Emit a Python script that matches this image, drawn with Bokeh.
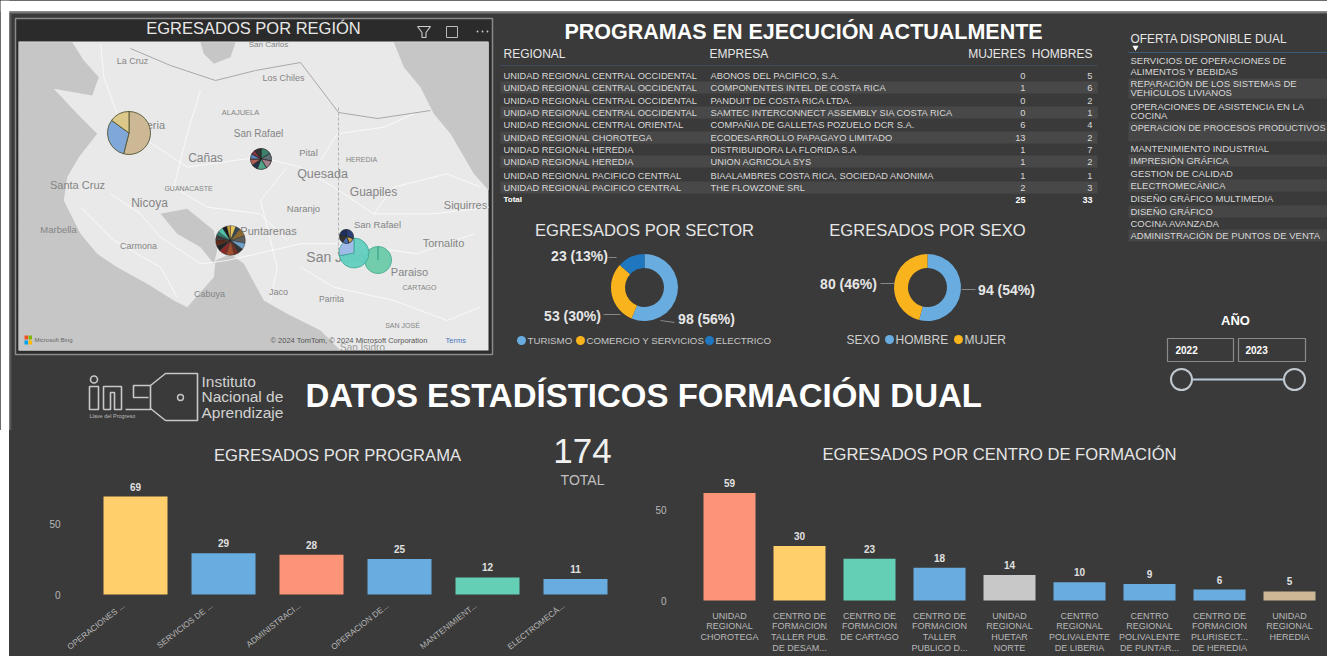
import math
from bokeh.embed import file_html
from bokeh.resources import INLINE
from bokeh.plotting import figure
from bokeh.layouts import column, row
from bokeh.models import ColumnDataSource, Label, Range1d, FixedTicker, Spacer
from bokeh.core.properties import value

# ---- data ----
tabla_regional = ["UNIDAD REGIONAL CENTRAL OCCIDENTAL"] * 4 + ["UNIDAD REGIONAL CENTRAL ORIENTAL", "UNIDAD REGIONAL CHOROTEGA",
                  "UNIDAD REGIONAL HEREDIA", "UNIDAD REGIONAL HEREDIA", "UNIDAD REGIONAL PACIFICO CENTRAL", "UNIDAD REGIONAL PACIFICO CENTRAL"]
tabla_empresa = ["ABONOS DEL PACIFICO, S.A.", "COMPONENTES INTEL DE COSTA RICA", "PANDUIT DE COSTA RICA LTDA.",
                 "SAMTEC INTERCONNECT ASSEMBLY SIA COSTA RICA", "COMPAÑIA DE GALLETAS POZUELO DCR S.A.",
                 "ECODESARROLLO PAPAGAYO LIMITADO", "DISTRIBUIDORA LA FLORIDA S.A", "UNION AGRICOLA SYS",
                 "BIAALAMBRES COSTA RICA, SOCIEDAD ANONIMA", "THE FLOWZONE SRL"]
tabla_mujeres = [0, 1, 0, 0, 6, 13, 1, 1, 1, 2]
tabla_hombres = [5, 6, 2, 1, 4, 2, 7, 2, 1, 3]
total_mujeres, total_hombres = 25, 33

oferta = ["SERVICIOS DE OPERACIONES DE", "ALIMENTOS Y BEBIDAS", "REPARACIÓN DE LOS SISTEMAS DE", "VEHÍCULOS LIVIANOS",
          "OPERACIONES DE ASISTENCIA EN LA", "COCINA", "OPERACION DE PROCESOS PRODUCTIVOS", "MANTENIMIENTO INDUSTRIAL",
          "IMPRESIÓN GRÁFICA", "GESTION DE CALIDAD", "ELECTROMECÁNICA", "DISEÑO GRÁFICO MULTIMEDIA", "DISEÑO GRÁFICO",
          "COCINA AVANZADA", "ADMINISTRACIÓN DE PUNTOS DE VENTA"]

sector_labels = ["TURISMO", "COMERCIO Y SERVICIOS", "ELECTRICO"]
sector_values = [98, 53, 23]
sexo_labels = ["HOMBRE", "MUJER"]
sexo_values = [94, 80]

programa_cats = ["OPERACIONES ...", "SERVICIOS DE ...", "ADMINISTRACI...", "OPERACION DE...", "MANTENIMIENT...", "ELECTROMECÁ..."]
programa_vals = [69, 29, 28, 25, 12, 11]
centro_cats = ["UNIDAD\nREGIONAL\nCHOROTEGA", "CENTRO DE\nFORMACION\nTALLER PUB.\nDE DESAM...", "CENTRO DE\nFORMACION\nDE CARTAGO",
               "CENTRO DE\nFORMACION\nTALLER\nPUBLICO D...", "UNIDAD\nREGIONAL\nHUETAR\nNORTE", "CENTRO\nREGIONAL\nPOLIVALENTE\nDE LIBERIA",
               "CENTRO\nREGIONAL\nPOLIVALENTE\nDE PUNTAR...", "CENTRO DE\nFORMACION\nPLURISECT...\nDE HEREDIA", "UNIDAD\nREGIONAL\nHEREDIA"]
centro_vals = [59, 30, 23, 18, 14, 10, 9, 6, 5]

pie_liberia = [54, 31, 15]
pie_canas = [16, 12, 13, 15, 9, 10, 8, 7, 10]
pie_puntarenas = [6, 5, 9, 8, 7, 6, 5, 9, 8, 6, 7, 5, 4, 6, 5, 4]
pie_sanramon = [30, 14, 16, 18, 22]
pie_sanjose = [72, 28]
pie_cartago = [100]

# ---- styling ----
BG = "#3a3a3a"
W, H = 1327, 656
TOP_H = 430
YEL, BLU, SAL, GRN, GRY, TAN = "#FFCF6B", "#69ACE0", "#FD9377", "#65CFB6", "#C8C8C8", "#CDB896"
DBLU, ORG = "#1F77C0", "#F9B31C"
SANS = value("Liberation Sans")


def Y(v):
    return H - v


top = figure(width=W, height=TOP_H, x_range=Range1d(0, W), y_range=Range1d(H - TOP_H, H),
             output_backend="svg", toolbar_location=None, min_border=0,
             background_fill_color=None, border_fill_color=None, outline_line_color=None,
             styles={"background-color": BG})
top.axis.visible = False
top.grid.visible = False


def txt(x, y, s, size, color="#e6e6e6", align="left", bold=False, alpha=1.0, angle=0):
    top.text([x], [Y(y)], text=[s], text_font=SANS, text_font_size=f"{size}px", text_color=color,
             text_align=align, text_baseline="middle", text_font_style="bold" if bold else "normal",
             text_alpha=alpha, angle=angle)


def ln(xs, ys, color="#ffffff", width=1.0, alpha=1.0, dash="solid"):
    top.line(xs, [Y(v) for v in ys], line_color=color, line_width=width, line_alpha=alpha, line_dash=dash)


def box(x0, y0, x1, y1, fill=None, line=None, width=1.0):
    top.quad(left=[x0], right=[x1], top=[Y(y0)], bottom=[Y(y1)], fill_color=fill, line_color=line, line_width=width)


def slices(cx, cy, vals, colors, r, inner=0.0, line="#222222", lw=0.7, alpha=1.0):
    tot = float(sum(vals))
    ang = math.pi / 2
    st, en = [], []
    for v in vals:
        st.append(ang - 2 * math.pi * v / tot * 0.9999)
        en.append(ang)
        ang = ang - 2 * math.pi * v / tot
    n = len(vals)
    src = dict(s=st, e=en, c=[colors[i % len(colors)] for i in range(n)], x=[cx] * n, y=[Y(cy)] * n)
    if inner:
        top.annular_wedge("x", "y", inner_radius=inner, outer_radius=r, start_angle="s", end_angle="e",
                          fill_color="c", line_color=line, line_width=lw, fill_alpha=alpha, source=ColumnDataSource(src))
    else:
        top.wedge("x", "y", radius=r, start_angle="s", end_angle="e", fill_color="c", line_color=line,
                  line_width=lw, fill_alpha=alpha, source=ColumnDataSource(src))


# white page edge, top strip and frame of map panel
box(0, 0, W, 11, fill="#ffffff")
box(0, 0, 9, TOP_H, fill="#ffffff")
box(9, 11, W, 13, fill="#777777")
box(9, 13, 11, TOP_H, fill="#555555")
box(15, 18, 492, 354, fill="#2b2b2b", line="#8a8a8a", width=1.5)

# ---- map ----
MX0, MY0, MX1, MY1 = 18, 41, 488, 350
box(MX0, MY0, MX1, MY1, fill="#e9e9e9")
sea_w = [(55, 125), (215, 125), (250, 180), (295, 230), (275, 285), (160, 265), (230, 340), (290, 400), (235, 470), (200, 530),
         (190, 600), (215, 650), (240, 700), (290, 760), (350, 800), (440, 850), (520, 900), (560, 920), (640, 830), (645, 780),
         (690, 760), (730, 790), (790, 900), (860, 940), (960, 990), (1020, 1050), (55, 1050)]
sea_e = [(1180, 125), (1210, 200), (1260, 260), (1300, 340), (1350, 400), (1420, 520), (1465, 570), (1465, 125)]
gulf = [(480, 640), (560, 625), (640, 690), (650, 750), (640, 790), (600, 740), (530, 700)]
lake = [(600, 125), (705, 125), (690, 170), (640, 190), (610, 160)]
for poly in (sea_w, sea_e, gulf, lake):
    top.patch([p[0] / 3 for p in poly], [Y(p[1] / 3) for p in poly], fill_color="#c6c6c6", line_color=None)

roads = [[(300, 130), (310, 230), (350, 340), (440, 420), (560, 500), (700, 480), (780, 470), (900, 500), (1000, 560), (1120, 640), (1300, 640), (1465, 620)],
         [(330, 580), (420, 640), (480, 710), (600, 790), (680, 780), (900, 730), (1040, 730), (1250, 760), (1420, 700)],
         [(600, 270), (560, 400), (520, 560), (620, 620), (780, 640), (860, 720)],
         [(860, 500), (780, 600), (800, 680), (830, 800), (810, 900)],
         [(960, 480), (1010, 400), (1150, 380), (1240, 340)],
         [(900, 800), (1000, 860), (1180, 900), (1340, 960), (1440, 920)],
         [(240, 620), (340, 720), (480, 800), (530, 890)],
         [(1120, 640), (1180, 560), (1340, 520), (1440, 560)]]
top.multi_line([[p[0] / 3 for p in r] for r in roads], [[Y(p[1] / 3) for p in r] for r in roads],
               line_color="#fbfbfb", line_width=1.0, line_alpha=0.85)
ln([130, 170, 215, 255, 300, 338, 377, 430],
   [48, 65, 80, 70, 62, 112, 118, 110], color="#a8a8a8", width=1.0)
ln([338, 338], [107, 255], color="#a5a5a5", width=0.8, dash="3 2")

map_labels = [("La Cruz", 132, 60, 9), ("Los Chiles", 283, 77, 9), ("ALAJUELA", 240, 112, 7.5), ("San Rafael", 258, 133, 10),
              ("Liberia", 148, 124, 11), ("Cañas", 205, 157, 12), ("Pital", 308, 152, 9.5), ("HEREDIA", 361, 159, 7),
              ("Quesada", 322, 173, 12.5), ("Guapiles", 373, 191, 12), ("Santa Cruz", 77, 184, 11), ("GUANACASTE", 188, 188, 7),
              ("Nicoya", 149, 202, 12), ("Naranjo", 303, 208, 9.5), ("Siquirres", 465, 204, 11), ("Marbella", 58, 229, 9.5),
              ("Puntarenas", 268, 230, 11), ("San Rafael", 377, 224, 9.5), ("Carmona", 138, 245, 9), ("San José", 335, 256, 14),
              ("Tornalito", 443, 242, 11), ("Paraiso", 409, 271, 11), ("CARTAGO", 419, 287, 7), ("Cabuya", 209, 293, 9),
              ("Jaco", 278, 291, 9), ("Parrita", 331, 298, 8.5), ("SAN JOSÉ", 402, 325, 7), ("San Carlos", 268, 44, 8)]
for s, x, y, sz in map_labels:
    txt(x, y, s, sz, color="#858585", align="center")
txt(362, 347, "San Isidro", 10, color="#9a9a9a", align="center")
for i, c in enumerate(["#F25022", "#7FBA00", "#00A4EF", "#FFB900"]):
    box(24 + (i % 2) * 4, 335 + (i // 2) * 5, 27.5 + (i % 2) * 4, 339 + (i // 2) * 5, fill=c)
txt(34, 339, "Microsoft Bing", 6, color="#666666")
txt(270, 340, "© 2024 TomTom, © 2024 Microsoft Corporation", 7.5, color="#555555")
txt(445, 340, "Terms", 7.5, color="#4a78b8")

slices(128.5, 132.5, pie_liberia, [TAN, "#7FA8D8", "#DCC888"], 21.5, line="#555533", lw=0.9)
dark = ["#3b7f6e", "#5f6f78", "#a4808a", "#4ea58a", "#22344a", "#b06058", "#5588bb", "#883344", "#333333"]
slices(260.5, 158.5, pie_canas, dark, 10.5)
dark2 = ["#e8c85a", "#344a5a", "#8a6a30", "#5b5b5b", "#6fa0c8", "#333333", "#7a3020", "#a05030", "#8a2a2a", "#222222", "#5a2a1a", "#3a3a3a", "#2f7f6f", "#50c0a8", "#1a1a1a", "#c8a040"]
slices(230, 240, pie_puntarenas, dark2, 14.8, lw=0.4)
slices(377.5, 259.5, pie_cartago, ["#6BCBAA"], 13.5, line="#3aa58a", lw=0.8, alpha=0.95)
slices(353.5, 252.5, pie_sanjose, ["#62CFC0", "#9DB8E8"], 15, line="#3aa595", lw=0.8, alpha=0.95)
slices(346, 236, pie_sanramon, ["#2a3f7a", "#c8a050", "#4a6fb0", "#333333", "#1f2f60"], 7)
txt(253, 27, "EGRESADOS POR REGIÓN", 16.5, color="#e8e8e8", align="center")
# visual header icons
ln([417, 430, 425.5, 425.5, 421.5, 421.5, 417], [26, 26, 32, 37, 37, 32, 26], color="#cfcfcf", width=1.1)
box(446, 26, 457, 37, line="#bbbbbb", width=1.0)
top.circle([477, 482, 487], [Y(31)] * 3, radius=0.9, fill_color="#cfcfcf", line_color=None)

# ---- table ----
txt(803.5, 31, "PROGRAMAS EN EJECUCIÓN ACTUALMENTE", 21.5, color="#ffffff", align="center", bold=True)
txt(503, 53, "REGIONAL", 12)
txt(709, 53, "EMPRESA", 12)
txt(1025, 53, "MUJERES", 12, align="right")
txt(1092, 53, "HOMBRES", 12, align="right")
ln([500, 1097], [65, 65], color="#3d4c5c", width=1.2)
row_y = [75, 87, 100, 112, 124, 137, 149, 161, 175, 187]
for i, yy in enumerate(row_y):
    if i % 2 == 1:
        box(500, yy - 6, 1097, yy + 6, fill="#484848")
    txt(503, yy, tabla_regional[i], 9.3, color="#d8d8d8")
    txt(710, yy, tabla_empresa[i], 9.3, color="#d8d8d8")
    txt(1025, yy, str(tabla_mujeres[i]), 9.3, color="#d8d8d8", align="right")
    txt(1092, yy, str(tabla_hombres[i]), 9.3, color="#d8d8d8", align="right")
txt(503, 199, "Total", 8, color="#ffffff", bold=True)
txt(1025, 199, str(total_mujeres), 9, color="#ffffff", align="right", bold=True)
txt(1092, 199, str(total_hombres), 9, color="#ffffff", align="right", bold=True)

# ---- offer list ----
txt(1130, 38, "OFERTA DISPONIBLE DUAL", 11.9)
top.scatter([1135], [Y(47)], marker="inverted_triangle", size=6, fill_color="#ffffff", line_color=None)
ln([1128, 1327], [52, 52], color="#3d5c7c", width=1.2)
of_y = [60, 71, 83, 92, 106, 115, 127, 148, 160, 173, 185, 198, 211, 223, 235]
for yb0, yb1 in [(78, 98), (121, 141), (154, 166), (179, 191), (205, 217), (229, 241)]:
    box(1128, yb0, 1327, yb1, fill="#464646")
for s, yy in zip(oferta, of_y):
    txt(1130, yy, s, 9.2 if s.endswith("PRODUCTIVOS") else 9.5, color="#d8d8d8")

# ---- donuts ----
txt(644, 230, "EGRESADOS POR SECTOR", 16.6, align="center")
slices(644, 287, sector_values, [BLU, ORG, DBLU], 33.5, inner=19.5, line=None)
txt(927, 230, "EGRESADOS POR SEXO", 16.6, align="center")
slices(927, 287, sexo_values, [BLU, ORG], 33.5, inner=19.5, line=None)
sector_pct = [round(100 * v / sum(sector_values)) for v in sector_values]
sexo_pct = [round(100 * v / sum(sexo_values)) for v in sexo_values]
txt(579, 255, f"{sector_values[2]} ({sector_pct[2]}%)", 14, bold=True, align="center")
txt(572, 315, f"{sector_values[1]} ({sector_pct[1]}%)", 14, bold=True, align="center")
txt(706, 318, f"{sector_values[0]} ({sector_pct[0]}%)", 14, bold=True, align="center")
txt(848, 283, f"{sexo_values[1]} ({sexo_pct[1]}%)", 14, bold=True, align="center")
txt(1006, 289, f"{sexo_values[0]} ({sexo_pct[0]}%)", 14, bold=True, align="center")
ln([608, 616], [257, 257], color="#888888")
ln([603, 620], [314, 314], color="#888888")
ln([660, 674], [320, 322], color="#888888")
ln([880, 894], [283, 283], color="#888888")
ln([961, 975], [289, 289], color="#888888")
for x, s, c in zip([521, 580, 709], sector_labels, [BLU, ORG, DBLU]):
    top.circle([x], [Y(340)], radius=4.5, fill_color=c, line_color=None)
    txt(x + 6, 340, s, 9.7, color="#c8c8c8")
txt(846, 339, "SEXO", 12, color="#d0d0d0")
for x, s, c in zip([889, 958], sexo_labels, [BLU, ORG]):
    top.circle([x], [Y(339)], radius=4.5, fill_color=c, line_color=None)
    txt(x + 6, 339, s, 12, color="#d0d0d0")

# ---- year slicer ----
txt(1235, 320, "AÑO", 13, color="#ffffff", align="center", bold=True)
box(1167, 338, 1233, 361, line="#8a8a8a", width=1.2)
box(1238, 338, 1305, 361, line="#8a8a8a", width=1.2)
txt(1175, 349, "2022", 10, color="#ffffff", bold=True)
txt(1245, 349, "2023", 10, color="#ffffff", bold=True)
ln([1192, 1283], [379, 379], color="#b8c8d8", width=2)
top.circle([1181, 1294], [Y(379), Y(379)], radius=10.5, fill_color=BG, line_color="#c0c8d0", line_width=2)

# ---- logo and main title ----
LG = "#c8c8c8"
box(89, 386, 98, 409, line=LG, width=1.6)
top.circle([93.5], [Y(379)], radius=3.5, fill_color=None, line_color=LG, line_width=1.6)
ln([103, 103, 121, 121, 114, 114, 110, 110, 103], [409, 386, 386, 409, 409, 392, 392, 409, 409], color=LG, width=1.6)
ln([125, 150, 150, 133, 133, 148], [409, 409, 385, 385, 397, 397], color=LG, width=1.6)
ln([150, 165, 165, 197, 197, 165, 165, 150], [385, 373, 373, 373, 420, 420, 420, 408], color=LG, width=1.6)
top.circle([180], [Y(397)], radius=3, fill_color=None, line_color=LG, line_width=1.4)
txt(89, 415, "Llave del Progreso", 5.5, color="#bbbbbb")
for s, yy in zip(["Instituto", "Nacional de", "Aprendizaje"], [381, 396, 412]):
    txt(201, yy, s, 15.5, color="#d2d2d2")
txt(305, 395, "DATOS ESTADÍSTICOS FORMACIÓN DUAL", 33, color="#ffffff", bold=True)


# ---- bar charts ----
def barfig(cats, vals, colors, width, left, page_left, center0, pitch, baseline_px, px_per, bar_px, standoff):
    # frames run to the figure's bottom and right edge so that labels under the bars are not clipped
    height = H - TOP_H
    frame_left = page_left + left
    page_right = page_left + width
    p = figure(width=width, height=height,
               x_range=Range1d((frame_left - center0) / pitch, (page_right - center0) / pitch),
               y_range=Range1d(-(H - baseline_px) / px_per, (baseline_px - TOP_H) / px_per),
               output_backend="svg", toolbar_location=None,
               min_border_left=left, min_border_right=0, min_border_top=0, min_border_bottom=0,
               background_fill_color=None, border_fill_color=None, outline_line_color=None,
               styles={"background-color": BG})
    p.grid.visible = False
    src = ColumnDataSource(dict(x=list(range(len(cats))), cat=cats, y=vals, c=colors,
                                t=[str(v) for v in vals], z=[0] * len(cats)))
    p.vbar(x="x", top="y", width=bar_px / pitch, fill_color="c", line_color=None, source=src)
    p.text(x="x", y="y", text="t", y_offset=-6, text_align="center", text_baseline="bottom", text_color="#e0e0e0",
           text_font=SANS, text_font_size="10px", text_font_style="bold", source=src)
    p.yaxis.ticker = FixedTicker(ticks=[0, 50])
    p.yaxis.axis_line_color = None
    p.yaxis.major_tick_line_color = None
    p.yaxis.minor_tick_line_color = None
    p.yaxis.major_tick_out = 0
    p.yaxis.major_label_text_color = "#b8b8b8"
    p.yaxis.major_label_text_font = "Liberation Sans"
    p.yaxis.major_label_text_font_size = "10px"
    p.yaxis.major_label_standoff = standoff
    p.xaxis.visible = False
    return p, src


b1, s1 = barfig(programa_cats, programa_vals, [YEL, BLU, SAL, BLU, GRN, BLU], 631, 47, 9, 135, 88, 594, 1.42, 64, -4)
b2, s2 = barfig(centro_cats, centro_vals, [SAL, YEL, GRN, BLU, GRY, BLU, BLU, BLU, TAN], 687, 54, 640, 729, 70, 600, 1.82, 52, 28)

b1.text(x="x", y="z", text="cat", source=s1, angle=math.radians(38), x_offset=-12, y_offset=10,
        text_align="right", text_baseline="middle", text_color="#b8b8b8",
        text_font=SANS, text_font_size="8.3px")
b2.text(x="x", y="z", text="cat", source=s2, y_offset=10, text_align="center", text_baseline="top",
        text_color="#b8b8b8", text_font=SANS, text_font_size="9px", text_line_height=1.08)


def lab(p, x, y, s, size, color="#e6e6e6", bold=False):
    p.add_layout(Label(x=x, y=y, x_units="screen", y_units="screen", text=s, text_font="Liberation Sans",
                       text_font_size=f"{size}px", text_color=color, text_align="center", text_baseline="middle",
                       text_font_style="bold" if bold else "normal"))


# positions relative to the plot frame of each chart (frame bottom = figure bottom)
lab(b1, 337 - 56, H - 455, "EGRESADOS POR PROGRAMA", 16.6)
lab(b1, 582 - 56, H - 450, "174", 35, color="#f0f0f0")
lab(b1, 582 - 56, H - 479, "TOTAL", 14, color="#c0c0c0")
lab(b2, 999 - 694, H - 454, "EGRESADOS POR CENTRO DE FORMACIÓN", 16.6)

out = column(top, row(Spacer(width=9, height=H - TOP_H), b1, b2, spacing=0), spacing=0)
open("out.html", "w").write(file_html(out, INLINE))
